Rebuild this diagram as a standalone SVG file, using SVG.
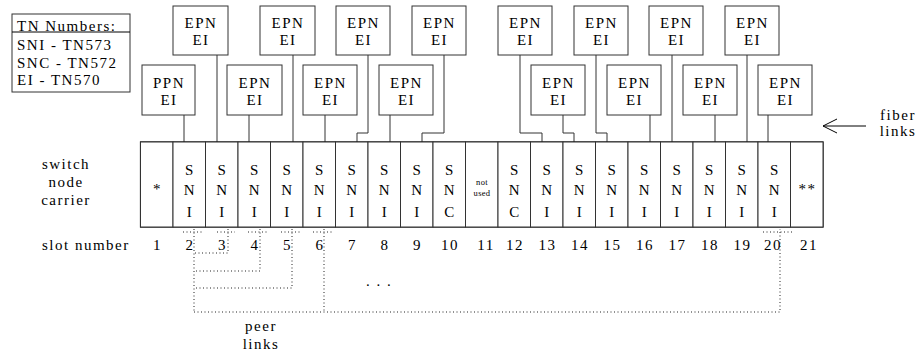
<svg xmlns="http://www.w3.org/2000/svg" width="922" height="356" viewBox="0 0 922 356" font-family="'Liberation Serif', 'Times New Roman', serif">
<style>
text{font-family:'Liberation Serif','Times New Roman',serif;font-size:15px;letter-spacing:1.5px;fill:#000}
.c{text-anchor:middle}
.box{fill:#fff;stroke:#333;stroke-width:1}
.slot{fill:#fff;stroke:#333;stroke-width:1}
.ln{fill:none;stroke:#333;stroke-width:1}
.dot{fill:none;stroke:#222;stroke-width:1;stroke-dasharray:1 2.5}
.sm{font-size:8.5px;letter-spacing:0.3px}
</style>
<defs>
<marker id="oa" viewBox="0 0 16 16" refX="15" refY="8" markerWidth="16" markerHeight="16" markerUnits="userSpaceOnUse" orient="auto">
<path d="M1 1 L15 8 L1 15" fill="none" stroke="#000" stroke-width="1"/>
</marker>
</defs>
<rect width="922" height="356" fill="#fff"/>

<g id="legend">
<rect x="12" y="14" width="118" height="78" class="box" stroke="#000"/>
<line x1="12" y1="32" x2="130" y2="32" stroke="#000" stroke-width="1"/>
<text x="17" y="31">TN Numbers:</text>
<text x="17" y="50">SNI - TN573</text>
<text x="17" y="68">SNC - TN572</text>
<text x="17" y="85">EI - TN570</text>
</g>

<g id="connectors">
<path class="ln" d="M184 115V142"/>
<path class="ln" d="M217 55V142"/>
<path class="ln" d="M249 115V142"/>
<path class="ln" d="M293 55V142"/>
<path class="ln" d="M325 115V142"/>
<path class="ln" d="M368 55V133H357V142"/>
<path class="ln" d="M390 115V142"/>
<path class="ln" d="M444 55V133H422V142"/>
<path class="ln" d="M520 55V133H542V142"/>
<path class="ln" d="M563 115V133H574V142"/>
<path class="ln" d="M596 55V133H607V142"/>
<path class="ln" d="M650 115V142"/>
<path class="ln" d="M672 55V142"/>
<path class="ln" d="M715 115V142"/>
<path class="ln" d="M747 55V142"/>
<path class="ln" d="M768 115V142"/>
<line x1="866" y1="126" x2="823" y2="126" stroke="#000" stroke-width="1" marker-end="url(#oa)"/>
<g id="peer-links">
<path class="dot" d="M183 232H203M217 232H235M248 232H268M281 232H300M313 232H332M763 232H792"/>
<path class="dot" d="M194 229V312"/>
<path class="dot" d="M228 229V253H194"/>
<path class="dot" d="M260 229V271H194"/>
<path class="dot" d="M292 229V288H194"/>
<path class="dot" d="M324 229V312"/>
<path class="dot" d="M194 312H780V229"/>
</g>
</g>

<g id="ppn-2"><rect x="142" y="65" width="53" height="50" class="box"/><text class="c" x="169" y="88">PPN</text><text class="c" x="169" y="105">EI</text></g>
<g id="epn-3"><rect x="173" y="6" width="55" height="49" class="box"/><text class="c" x="201" y="28">EPN</text><text class="c" x="201" y="45">EI</text></g>
<g id="epn-4"><rect x="227" y="65" width="55" height="50" class="box"/><text class="c" x="255" y="88">EPN</text><text class="c" x="255" y="105">EI</text></g>
<g id="epn-5"><rect x="260" y="6" width="55" height="49" class="box"/><text class="c" x="288" y="28">EPN</text><text class="c" x="288" y="45">EI</text></g>
<g id="epn-6"><rect x="303" y="65" width="54" height="50" class="box"/><text class="c" x="330.5" y="88">EPN</text><text class="c" x="330.5" y="105">EI</text></g>
<g id="epn-7"><rect x="336" y="6" width="54" height="49" class="box"/><text class="c" x="363.5" y="28">EPN</text><text class="c" x="363.5" y="45">EI</text></g>
<g id="epn-8"><rect x="379" y="65" width="54" height="50" class="box"/><text class="c" x="406.5" y="88">EPN</text><text class="c" x="406.5" y="105">EI</text></g>
<g id="epn-9"><rect x="412" y="6" width="54" height="49" class="box"/><text class="c" x="439.5" y="28">EPN</text><text class="c" x="439.5" y="45">EI</text></g>
<g id="epn-13"><rect x="498" y="6" width="54" height="49" class="box"/><text class="c" x="525.5" y="28">EPN</text><text class="c" x="525.5" y="45">EI</text></g>
<g id="epn-14"><rect x="531" y="65" width="54" height="50" class="box"/><text class="c" x="558.5" y="88">EPN</text><text class="c" x="558.5" y="105">EI</text></g>
<g id="epn-15"><rect x="574" y="6" width="54" height="49" class="box"/><text class="c" x="601.5" y="28">EPN</text><text class="c" x="601.5" y="45">EI</text></g>
<g id="epn-16"><rect x="607" y="65" width="54" height="50" class="box"/><text class="c" x="634.5" y="88">EPN</text><text class="c" x="634.5" y="105">EI</text></g>
<g id="epn-17"><rect x="649" y="6" width="54" height="49" class="box"/><text class="c" x="676.5" y="28">EPN</text><text class="c" x="676.5" y="45">EI</text></g>
<g id="epn-18"><rect x="683" y="65" width="54" height="50" class="box"/><text class="c" x="710.5" y="88">EPN</text><text class="c" x="710.5" y="105">EI</text></g>
<g id="epn-19"><rect x="725" y="6" width="54" height="49" class="box"/><text class="c" x="752.5" y="28">EPN</text><text class="c" x="752.5" y="45">EI</text></g>
<g id="epn-20"><rect x="758" y="65" width="54" height="50" class="box"/><text class="c" x="785.5" y="88">EPN</text><text class="c" x="785.5" y="105">EI</text></g>

<g id="carrier">
<rect x="140.5" y="142" width="682.5" height="85" fill="#fff" stroke="#000" stroke-width="1.2"/>
<g id="slot-1"><rect class="slot" x="140.5" y="142" width="32.5" height="85"/><text class="c" x="157.5" y="194">*</text></g>
<g id="slot-2"><rect class="slot" x="173" y="142" width="32.5" height="85"/><text class="c" x="190" y="175">S</text><text class="c" x="190" y="195">N</text><text class="c" x="190" y="217">I</text></g>
<g id="slot-3"><rect class="slot" x="205.5" y="142" width="32.5" height="85"/><text class="c" x="222.5" y="175">S</text><text class="c" x="222.5" y="195">N</text><text class="c" x="222.5" y="217">I</text></g>
<g id="slot-4"><rect class="slot" x="238" y="142" width="32.5" height="85"/><text class="c" x="255" y="175">S</text><text class="c" x="255" y="195">N</text><text class="c" x="255" y="217">I</text></g>
<g id="slot-5"><rect class="slot" x="270.5" y="142" width="32.5" height="85"/><text class="c" x="287.5" y="175">S</text><text class="c" x="287.5" y="195">N</text><text class="c" x="287.5" y="217">I</text></g>
<g id="slot-6"><rect class="slot" x="303" y="142" width="32.5" height="85"/><text class="c" x="320" y="175">S</text><text class="c" x="320" y="195">N</text><text class="c" x="320" y="217">I</text></g>
<g id="slot-7"><rect class="slot" x="335.5" y="142" width="32.5" height="85"/><text class="c" x="352.5" y="175">S</text><text class="c" x="352.5" y="195">N</text><text class="c" x="352.5" y="217">I</text></g>
<g id="slot-8"><rect class="slot" x="368" y="142" width="32.5" height="85"/><text class="c" x="385" y="175">S</text><text class="c" x="385" y="195">N</text><text class="c" x="385" y="217">I</text></g>
<g id="slot-9"><rect class="slot" x="400.5" y="142" width="32.5" height="85"/><text class="c" x="417.5" y="175">S</text><text class="c" x="417.5" y="195">N</text><text class="c" x="417.5" y="217">I</text></g>
<g id="slot-10"><rect class="slot" x="433" y="142" width="32.5" height="85"/><text class="c" x="450" y="175">S</text><text class="c" x="450" y="195">N</text><text class="c" x="450" y="217">C</text></g>
<g id="slot-11"><rect class="slot" x="465.5" y="142" width="32.5" height="85"/><text class="c sm" x="482" y="185">not</text><text class="c sm" x="482" y="196">used</text></g>
<g id="slot-12"><rect class="slot" x="498" y="142" width="32.5" height="85"/><text class="c" x="515" y="175">S</text><text class="c" x="515" y="195">N</text><text class="c" x="515" y="217">C</text></g>
<g id="slot-13"><rect class="slot" x="530.5" y="142" width="32.5" height="85"/><text class="c" x="547.5" y="175">S</text><text class="c" x="547.5" y="195">N</text><text class="c" x="547.5" y="217">I</text></g>
<g id="slot-14"><rect class="slot" x="563" y="142" width="32.5" height="85"/><text class="c" x="580" y="175">S</text><text class="c" x="580" y="195">N</text><text class="c" x="580" y="217">I</text></g>
<g id="slot-15"><rect class="slot" x="595.5" y="142" width="32.5" height="85"/><text class="c" x="612.5" y="175">S</text><text class="c" x="612.5" y="195">N</text><text class="c" x="612.5" y="217">I</text></g>
<g id="slot-16"><rect class="slot" x="628" y="142" width="32.5" height="85"/><text class="c" x="645" y="175">S</text><text class="c" x="645" y="195">N</text><text class="c" x="645" y="217">I</text></g>
<g id="slot-17"><rect class="slot" x="660.5" y="142" width="32.5" height="85"/><text class="c" x="677.5" y="175">S</text><text class="c" x="677.5" y="195">N</text><text class="c" x="677.5" y="217">I</text></g>
<g id="slot-18"><rect class="slot" x="693" y="142" width="32.5" height="85"/><text class="c" x="710" y="175">S</text><text class="c" x="710" y="195">N</text><text class="c" x="710" y="217">I</text></g>
<g id="slot-19"><rect class="slot" x="725.5" y="142" width="32.5" height="85"/><text class="c" x="742.5" y="175">S</text><text class="c" x="742.5" y="195">N</text><text class="c" x="742.5" y="217">I</text></g>
<g id="slot-20"><rect class="slot" x="758" y="142" width="32.5" height="85"/><text class="c" x="775" y="175">S</text><text class="c" x="775" y="195">N</text><text class="c" x="775" y="217">I</text></g>
<g id="slot-21"><rect class="slot" x="790.5" y="142" width="32.5" height="85"/><text class="c" x="807.5" y="194">**</text></g>
</g>

<g id="labels">
<text class="c" x="66" y="169">switch</text>
<text class="c" x="66" y="187">node</text>
<text class="c" x="66" y="205">carrier</text>
<text x="42" y="250">slot number</text>
<text class="c" x="157.5" y="250">1</text>
<text class="c" x="190" y="250">2</text>
<text class="c" x="222.5" y="250">3</text>
<text class="c" x="255" y="250">4</text>
<text class="c" x="287.5" y="250">5</text>
<text class="c" x="320" y="250">6</text>
<text class="c" x="352.5" y="250">7</text>
<text class="c" x="385" y="250">8</text>
<text class="c" x="417.5" y="250">9</text>
<text class="c" x="450" y="250">10</text>
<text class="c" x="486" y="250">11</text>
<text class="c" x="515" y="250">12</text>
<text class="c" x="547.5" y="250">13</text>
<text class="c" x="580" y="250">14</text>
<text class="c" x="612.5" y="250">15</text>
<text class="c" x="645" y="250">16</text>
<text class="c" x="677.5" y="250">17</text>
<text class="c" x="710" y="250">18</text>
<text class="c" x="742.5" y="250">19</text>
<text class="c" x="773" y="250">20</text>
<text class="c" x="809" y="250">21</text>
<text class="c" x="379" y="286">. . .</text>
<text class="c" x="261" y="331">peer</text>
<text class="c" x="261" y="349">links</text>
<text class="c" x="898" y="120">fiber</text>
<text class="c" x="898" y="136">links</text>
</g>
</svg>
